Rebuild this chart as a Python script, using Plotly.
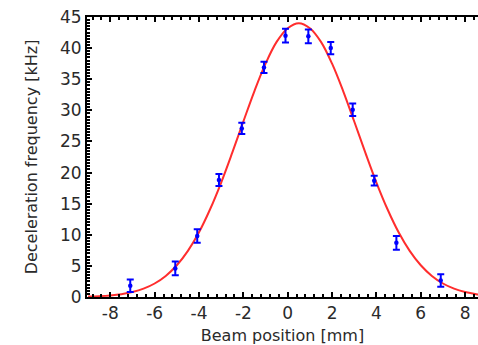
import plotly.graph_objects as go

# Measured data points (beam position [mm], deceleration frequency [kHz], error)
pos_mm = [-7.1, -5.07, -4.08, -3.1, -2.07, -1.07, -0.1, 0.93, 1.94, 2.93, 3.9, 4.9, 6.9]
freq_khz = [1.8, 4.6, 9.8, 18.8, 27.1, 36.9, 42.0, 41.9, 40.0, 30.1, 18.7, 8.7, 2.65]
freq_err = [1.0, 1.1, 1.1, 0.95, 0.9, 0.9, 1.1, 1.1, 1.0, 1.0, 0.8, 1.1, 1.0]

# Fit curve
fit_x = [-9, -8.5, -8, -7.5, -7, -6.5, -6, -5.5, -5, -4.5, -4, -3.5, -3, -2.5, -2, -1.5, -1, -0.5,
         0, 0.5, 1, 1.5, 2, 2.5, 3, 3.5, 4, 4.5, 5, 5.5, 6, 6.5, 7, 7.5, 8, 8.5, 9]
fit_y = [0.07, 0.14, 0.26, 0.46, 0.80, 1.34, 2.17, 3.39, 5.10, 7.42, 10.4, 14.1, 18.4, 23.2, 28.2, 33.1, 37.5, 41.0,
         43.2, 44.0, 43.2, 41.0, 37.5, 33.1, 28.2, 23.2, 18.4, 14.1, 10.4, 7.42, 5.10, 3.39, 2.17, 1.34, 0.80, 0.46, 0.26]

x_ticks = [-8, -6, -4, -2, 0, 2, 4, 6, 8]
y_ticks = [0, 5, 10, 15, 20, 25, 30, 35, 40, 45]

font_family = "DejaVu Sans"
text_col = "#2a2a2a"

fig = go.Figure()
fig.add_trace(go.Scatter(
    x=fit_x, y=fit_y, mode="lines",
    line=dict(color="rgb(255,45,45)", width=2, shape="spline"),
    hoverinfo="skip", showlegend=False,
))
fig.add_trace(go.Scatter(
    x=pos_mm, y=freq_khz, mode="markers",
    marker=dict(color="#0000ff", size=4.5),
    error_y=dict(type="data", array=freq_err, color="#0000ff", thickness=2, width=3.5),
    showlegend=False,
))

fig.update_layout(
    width=478, height=345,
    margin=dict(l=87, r=0, t=17, b=48),
    paper_bgcolor="white", plot_bgcolor="white",
    font=dict(family=font_family, size=16, color=text_col),
)
fig.update_xaxes(
    range=[-9.05, 8.58], tickvals=x_ticks, ticktext=[str(v) for v in x_ticks],
    showline=True, linecolor="black", linewidth=2, mirror="ticks",
    ticks="inside", ticklen=5, tickwidth=1.5, tickcolor="black",
    minor=dict(ticks="inside", dtick=0.4, tick0=0, ticklen=3, tickwidth=1.5, tickcolor="black"),
    showgrid=False, zeroline=False,
    title=dict(text="Beam position [mm]", font=dict(size=16), standoff=7),
    tickfont=dict(size=17),
)
fig.update_yaxes(
    range=[0, 45], tickvals=y_ticks, ticktext=[str(v) for v in y_ticks],
    showline=True, linecolor="black", linewidth=2, mirror=False,
    ticks="inside", ticklen=5, tickwidth=1.5, tickcolor="black",
    minor=dict(ticks="inside", dtick=0.5, tick0=0, ticklen=3, tickwidth=1.5, tickcolor="black"),
    showgrid=False, zeroline=False,
    title=dict(text="Deceleration frequency [kHz]", font=dict(size=16), standoff=18),
    tickfont=dict(size=17),
)

fig.write_html("out.html")
